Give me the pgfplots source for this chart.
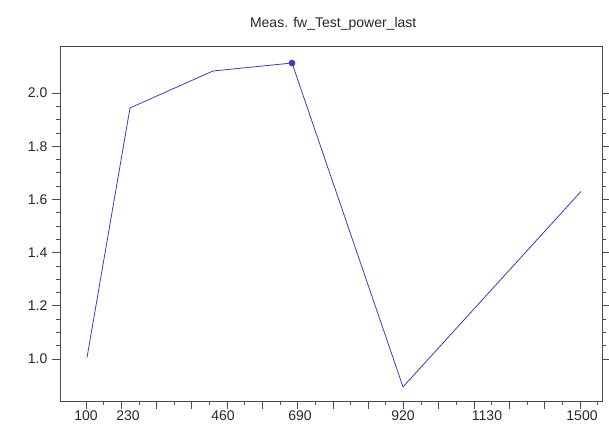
\documentclass[border=0pt]{standalone}
\usepackage{fontspec}
\setmainfont{Liberation Sans}
\usepackage{pgfplots}
\pgfplotsset{compat=1.18}
\definecolor{lineblue}{RGB}{60,60,200}
\definecolor{txtgray}{RGB}{40,40,40}

\begin{document}
\begin{tikzpicture}[x=0.75pt,y=0.75pt]
% reserve the full canvas (609 x 432 px, axis box from x=60..602, y=46..401)
\path[use as bounding box] (-60,-31) rectangle (549,401);
\begin{axis}[
    at={(0,0)}, anchor=south west,
    scale only axis,
    width=406.5pt, height=266.25pt,
    xmin=60, xmax=602,
    ymin=0.842, ymax=2.177,
    axis line style={black!70, line width=0.7pt},
    tick align=outside,
    xtick pos=bottom,
    ytick pos=both,
    xtick={86,121.28,...,600},
    xticklabels={},
    minor x tick num=1,
    extra x ticks={86,128,223,300,403,487,582},
    extra x tick labels={100,230,460,690,920,1130,1500},
    extra x tick style={major tick length=0pt, tick label style={yshift=-4pt}},
    ytick={1.0,1.2,1.4,1.6,1.8,2.0},
    minor y tick num=3,
    major tick length=6pt,
    minor tick length=3pt,
    tick style={black!70, line width=0.6pt},
    yticklabel style={/pgf/number format/.cd, fixed, fixed zerofill, precision=1},
    /pgf/number format/assume math mode=true,
    tick label style={font=\fontsize{10.5}{12}\selectfont, text=txtgray},
    title={Meas. fw\_Test\_power\_last},
    title style={at={(0.504,1)}, anchor=south, yshift=2pt,
        font=\fontsize{10.5}{12}\selectfont, text=txtgray},
]
\addplot[lineblue, line width=0.6pt, mark=*, mark indices={4},
    mark size=2.2pt, mark options={fill=lineblue, draw=lineblue}] coordinates {
    (87,1.005)
    (130,1.944)
    (213,2.083)
    (292,2.113)
    (403,0.895)
    (581,1.630)
};
\end{axis}
\end{tikzpicture}
\end{document}
